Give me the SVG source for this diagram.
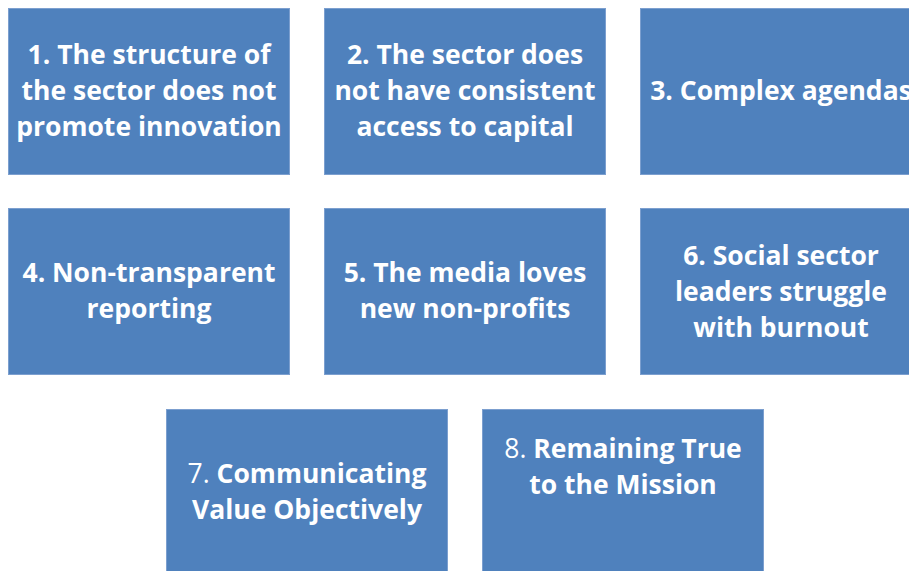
<svg xmlns="http://www.w3.org/2000/svg" width="909" height="571" viewBox="0 0 909 571">
<style>
.box{fill:#4F81BD;stroke:#7C9FCF;stroke-width:1}
.t{font-family:"Open Sans","Liberation Sans",sans-serif;font-size:26.5px;font-weight:bold;fill:#FFFFFF;text-anchor:middle}
.n{font-weight:normal}
</style>
<rect width="909" height="571" fill="#FFFFFF"/>
<g id="node1"><rect class="box" x="8.5" y="8.5" width="281" height="166"/>
<text class="t" x="149" y="64">1. The structure of</text>
<text class="t" x="149" y="100">the sector does not</text>
<text class="t" x="149" y="136">promote innovation</text></g>
<g id="node2"><rect class="box" x="324.5" y="8.5" width="281" height="166"/>
<text class="t" x="465" y="64">2. The sector does</text>
<text class="t" x="465" y="100">not have consistent</text>
<text class="t" x="465" y="136">access to capital</text></g>
<g id="node3"><rect class="box" x="640.5" y="8.5" width="281" height="166"/>
<text class="t" x="781" y="100">3. Complex agendas</text></g>
<g id="node4"><rect class="box" x="8.5" y="208.5" width="281" height="166"/>
<text class="t" x="149" y="282">4. Non-transparent</text>
<text class="t" x="149" y="318">reporting</text></g>
<g id="node5"><rect class="box" x="324.5" y="208.5" width="281" height="166"/>
<text class="t" x="465" y="282">5. The media loves</text>
<text class="t" x="465" y="318">new non-profits</text></g>
<g id="node6"><rect class="box" x="640.5" y="208.5" width="281" height="166"/>
<text class="t" x="781" y="265">6. Social sector</text>
<text class="t" x="781" y="301">leaders struggle</text>
<text class="t" x="781" y="337">with burnout</text></g>
<g id="node7"><rect class="box" x="166.5" y="409.5" width="281" height="166"/>
<text class="t" x="307" y="483"><tspan class="n">7.</tspan> Communicating</text>
<text class="t" x="307" y="519">Value Objectively</text></g>
<g id="node8"><rect class="box" x="482.5" y="409.5" width="281" height="166"/>
<text class="t" x="623" y="458"><tspan class="n">8.</tspan> Remaining True</text>
<text class="t" x="623" y="494">to the Mission</text></g>
<g id="connectors"></g>
</svg>
